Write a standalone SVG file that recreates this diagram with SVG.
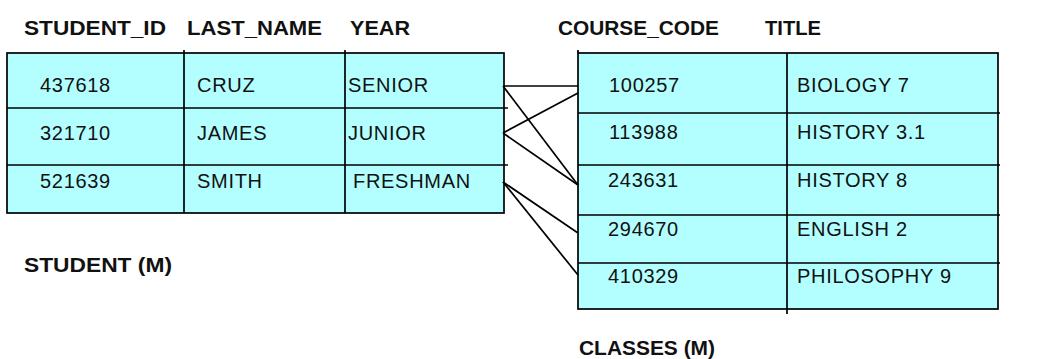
<svg xmlns="http://www.w3.org/2000/svg" width="1039" height="359" viewBox="0 0 1039 359">
<style>
.tbl{fill:#b3ffff;stroke:#000;stroke-width:1.7}
.ln{stroke:#000;stroke-width:1.7;fill:none}
.hd{font-family:"Liberation Sans",Arial,sans-serif;font-weight:bold;font-size:20px;fill:#111}
.tx{font-family:"Liberation Sans",Arial,sans-serif;font-size:20px;letter-spacing:0.7px;fill:#111}
</style>
<rect width="1039" height="359" fill="#fff"/>
<g id="student">
<text class="hd" x="24" y="35" textLength="142" lengthAdjust="spacingAndGlyphs">STUDENT_ID</text>
<text class="hd" x="187" y="35" textLength="135" lengthAdjust="spacingAndGlyphs">LAST_NAME</text>
<text class="hd" x="350" y="35" textLength="60" lengthAdjust="spacingAndGlyphs">YEAR</text>
<rect class="tbl" x="7" y="53" width="497" height="160"/>
<path class="ln" d="M184 50V213M345 50V213M7 108H508M7 165H508"/>
<text class="tx" x="40" y="92">437618</text>
<text class="tx" x="197" y="92">CRUZ</text>
<text class="tx" x="348" y="92">SENIOR</text>
<text class="tx" x="40" y="140">321710</text>
<text class="tx" x="197" y="140">JAMES</text>
<text class="tx" x="348" y="140">JUNIOR</text>
<text class="tx" x="40" y="188">521639</text>
<text class="tx" x="197" y="188">SMITH</text>
<text class="tx" x="353" y="188">FRESHMAN</text>
<text class="hd" x="24" y="272" textLength="148" lengthAdjust="spacingAndGlyphs">STUDENT (M)</text>
</g>
<g id="classes">
<text class="hd" x="558" y="35" textLength="161" lengthAdjust="spacingAndGlyphs">COURSE_CODE</text>
<text class="hd" x="765" y="35" textLength="56" lengthAdjust="spacingAndGlyphs">TITLE</text>
<rect class="tbl" x="578" y="53" width="420" height="256"/>
<path class="ln" d="M578 50V53M787 53V314M578 113H1000M578 165H1000M578 215H1000M578 263H1000"/>
<text class="tx" x="609" y="92">100257</text>
<text class="tx" x="797" y="92">BIOLOGY 7</text>
<text class="tx" x="609" y="139">113988</text>
<text class="tx" x="797" y="139">HISTORY 3.1</text>
<text class="tx" x="608" y="187">243631</text>
<text class="tx" x="797" y="187">HISTORY 8</text>
<text class="tx" x="608" y="236">294670</text>
<text class="tx" x="797" y="236">ENGLISH 2</text>
<text class="tx" x="608" y="283">410329</text>
<text class="tx" x="797" y="283">PHILOSOPHY 9</text>
<text class="hd" x="579" y="355" textLength="136" lengthAdjust="spacingAndGlyphs">CLASSES (M)</text>
</g>
<g id="connectors" class="ln">
<line x1="503" y1="86" x2="578" y2="86"/>
<line x1="503" y1="86" x2="578" y2="185"/>
<line x1="503" y1="133" x2="578" y2="93"/>
<line x1="503" y1="133" x2="578" y2="185"/>
<line x1="503" y1="182" x2="578" y2="233"/>
<line x1="503" y1="182" x2="578" y2="275"/>
</g>
</svg>
